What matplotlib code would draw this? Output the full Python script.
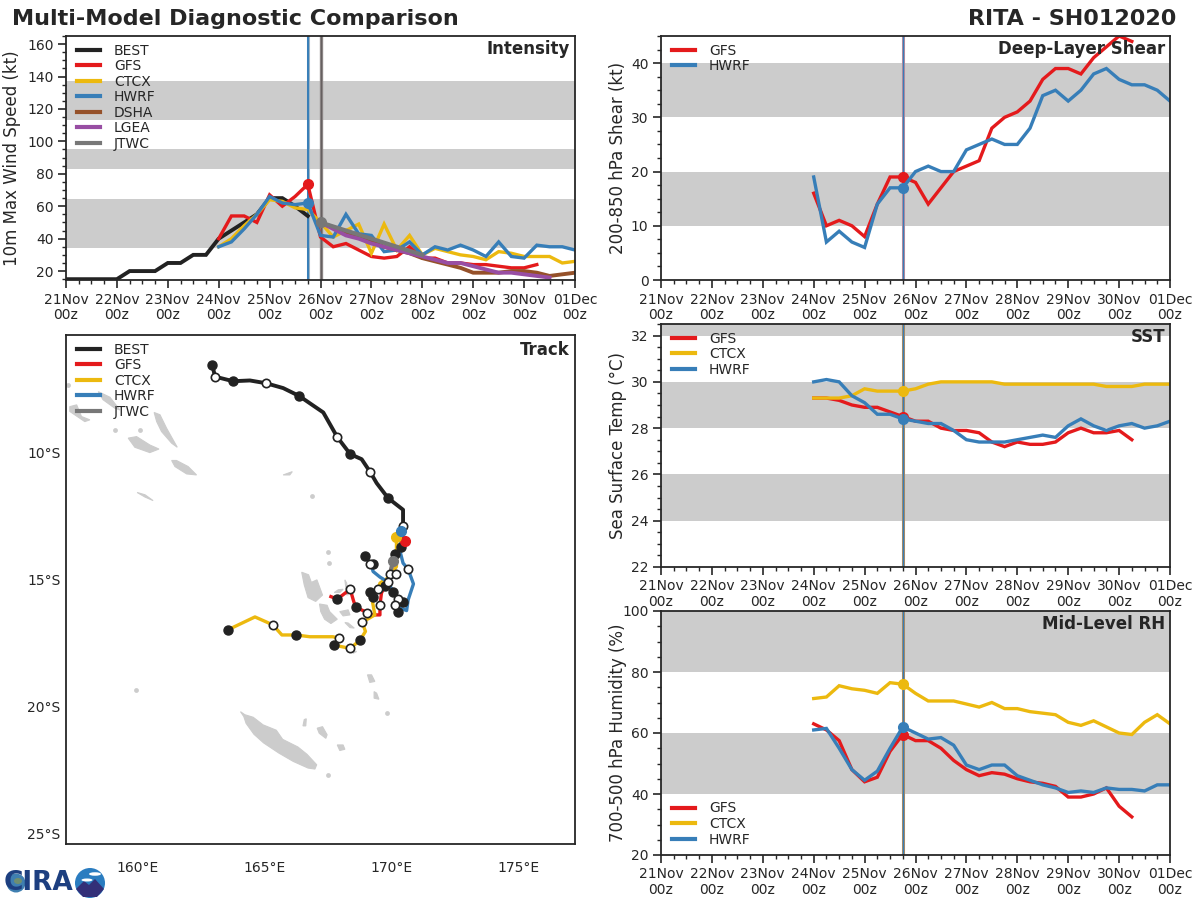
# Multi-model diagnostic comparison panel for RITA (SH012020)

import numpy as np
import matplotlib
matplotlib.use('Agg')
import matplotlib.pyplot as plt
from matplotlib.patches import Circle, Ellipse, Polygon
from matplotlib.ticker import MultipleLocator

plt.rcParams['font.family'] = ['DejaVu Sans']
plt.rcParams['text.color'] = '#262626'
plt.rcParams['axes.labelcolor'] = '#262626'
plt.rcParams['xtick.color'] = '#262626'
plt.rcParams['ytick.color'] = '#262626'

TICK_LABELS = ['21Nov\n00z', '22Nov\n00z', '23Nov\n00z', '24Nov\n00z', '25Nov\n00z', '26Nov\n00z',
               '27Nov\n00z', '28Nov\n00z', '29Nov\n00z', '30Nov\n00z', '01Dec\n00z']

COLORS = {'BEST': '#222222', 'GFS': '#e41a1c', 'CTCX': '#ecb90f', 'HWRF': '#377eb8',
          'DSHA': '#95512a', 'LGEA': '#984ea3', 'JTWC': '#777777'}

# ---- Intensity (kt), 6-hourly from the start hour
best_vmax = [15, 15, 15, 15, 15, 20, 20, 20, 25, 25, 30, 30, 40, 45, 50, 55, 65, 65, 60, 54]
gfs_vmax = [40, 54, 54, 50, 67, 60, 66, 73.5, 41, 35, 37, 33, 29, 28, 29, 35, 28, 28, 25, 25, 24, 24, 23, 22, 22, 24]
ctcx_vmax = [35, 40, 48, 55, 64, 63, 59, 58, 50, 41, 45, 49, 31, 49, 33, 42, 30, 34, 32, 30, 29, 27, 32, 31, 29, 29,
             29, 25, 26]
hwrf_vmax = [35, 38, 46, 55, 66, 62, 61, 62, 42, 41, 55, 43, 42, 32, 33, 38, 30, 35, 33, 36, 33, 29, 38, 29, 28, 36,
             35, 35, 33]
dsha_vmax = [50, 47, 44, 41, 38, 35, 33, 31, 28, 26, 24, 22, 19, 19, 19, 20, 20, 19, 17, 18, 19]
lgea_vmax = [50, 46, 42, 40, 37, 35, 33, 31, 29, 27, 25, 25, 23, 21, 19, 19, 18, 17, 16]
jtwc_hours = [120, 132, 144, 156, 168]
jtwc_vmax = [50, 45, 40, 35, 30]

# ---- Deep-layer shear (kt), from 72 h
gfs_shear = [16, 10, 11, 10, 8, 14, 19, 19, 18, 14, 17, 20, 21, 22, 28, 30, 31, 33, 37, 39, 39, 38, 41, 43, 45, 44]
hwrf_shear = [19, 7, 9, 7, 6, 14, 17, 17, 20, 21, 20, 20, 24, 25, 26, 25, 25, 28, 34, 35, 33, 35, 38, 39, 37, 36,
              36, 35, 33]

# ---- SST (C), from 72 h
gfs_sst = [29.3, 29.3, 29.2, 29.0, 28.9, 28.9, 28.7, 28.5, 28.3, 28.3, 28.0, 27.9, 27.9, 27.8, 27.4, 27.2, 27.4,
           27.3, 27.3, 27.4, 27.8, 28.0, 27.8, 27.8, 27.9, 27.5]
ctcx_sst = [29.3, 29.3, 29.3, 29.4, 29.7, 29.6, 29.6, 29.6, 29.7, 29.9, 30.0, 30.0, 30.0, 30.0, 30.0, 29.9, 29.9,
            29.9, 29.9, 29.9, 29.9, 29.9, 29.9, 29.8, 29.8, 29.8, 29.9, 29.9, 29.9]
hwrf_sst = [30.0, 30.1, 30.0, 29.4, 29.1, 28.6, 28.6, 28.4, 28.3, 28.2, 28.2, 27.9, 27.5, 27.4, 27.4, 27.4, 27.5,
            27.6, 27.7, 27.6, 28.1, 28.4, 28.1, 27.9, 28.1, 28.2, 28.0, 28.1, 28.3]

# ---- Mid-level RH (%), from 72 h
gfs_rh = [63, 61, 57.5, 48, 44, 45.5, 54, 59.5, 57.5, 57.5, 55, 51, 48, 46, 47, 46.5, 45, 44, 43.5, 42.5, 39, 39,
          40, 42, 36, 32.5]
ctcx_rh = [71.3, 71.8, 75.5, 74.5, 74, 73, 76.5, 76, 73, 70.5, 70.5, 70.5, 69.5, 68.5, 70, 68, 68, 67, 66.5, 66,
           63.5, 62.5, 64, 62, 60, 59.5, 63.5, 66, 63]
hwrf_rh = [61, 61.5, 55, 48, 44.5, 47.5, 55, 62, 60, 58, 58.5, 56, 49.5, 48, 49.5, 49.5, 46, 44.5, 43, 42, 40.5,
           41, 40.5, 42, 41.5, 41.5, 41, 43, 43]

# ---- Tracks (deg lon, deg lat)
best_lon = [162.93, 163.04, 163.75, 164.41, 165.05, 165.72, 166.35, 167.30, 167.85, 168.36, 168.81, 169.15, 169.40,
            169.85, 170.44, 170.44, 170.37, 170.12, 170.05]
best_lat = [-6.55, -7.00, -7.18, -7.15, -7.26, -7.45, -7.76, -8.41, -9.38, -10.05, -10.25, -10.76, -11.19, -11.78,
            -12.24, -12.90, -13.69, -13.98, -14.25]
gfs_lon = [170.50, 170.35, 170.20, 169.85, 169.59, 169.53, 169.53, 169.13, 169.03, 168.57, 168.48, 168.36, 167.85,
           167.60]
gfs_lat = [-13.46, -13.70, -13.82, -15.00, -15.52, -16.00, -16.38, -16.38, -16.29, -16.07, -15.79, -15.37, -15.76,
           -15.66]
ctcx_lon = [170.18, 170.18, 169.92, 169.53, 169.46, 169.20, 169.33, 168.83, 168.96, 168.75, 168.36, 167.73, 167.93,
            167.68, 166.77, 166.22, 165.67, 165.31, 164.61, 163.54]
ctcx_lat = [-13.30, -14.48, -14.87, -15.13, -15.37, -15.66, -16.38, -16.67, -17.03, -17.37, -17.70, -17.57, -17.30,
            -17.24, -17.24, -17.17, -17.17, -16.77, -16.46, -16.97]
hwrf_lon = [170.37, 170.34, 170.44, 170.64, 170.85, 170.64, 170.58, 170.18, 170.25, 170.05, 169.85, 169.53, 169.26,
            169.20, 168.96]
hwrf_lat = [-13.06, -13.95, -14.34, -14.58, -15.16, -15.79, -16.21, -16.05, -15.76, -15.48, -15.09, -14.89, -14.67,
            -14.44, -14.07]
jtwc_lon = [170.05, 169.92, 169.85]
jtwc_lat = [-14.25, -14.78, -15.09]

# 00z / 12z position dots
filled_lon = [162.93, 163.75, 166.35, 168.36, 169.85, 168.96, 169.26, 170.12, 170.37, 169.72, 170.05, 169.15, 169.26,
              170.44, 170.25, 168.57, 167.85, 168.75, 167.73, 166.22, 163.54]
filled_lat = [-6.55, -7.18, -7.76, -10.05, -11.78, -14.07, -14.38, -13.98, -13.69, -15.24, -15.48, -15.48, -15.68,
              -15.87, -16.27, -16.07, -15.76, -17.37, -17.57, -17.17, -16.97]
open_lon = [163.04, 165.05, 167.85, 169.15, 170.44, 169.15, 169.92, 170.15, 169.85, 169.46, 170.25, 170.12, 169.54,
            169.03, 168.36, 168.83, 167.93, 168.36, 170.64, 165.31]
open_lat = [-7.00, -7.26, -9.38, -10.76, -12.87, -14.38, -14.78, -14.78, -15.09, -15.37, -15.76, -16.00, -16.00,
            -16.29, -15.37, -16.67, -17.30, -17.70, -14.58, -16.77]

# ---- Land outlines (lon, lat)
new_caledonia = [(164.04, -20.19), (164.21, -20.31), (164.54, -20.41), (164.93, -20.71), (165.45, -20.92),
                 (165.70, -21.28), (166.30, -21.58), (166.66, -21.87), (167.04, -22.28), (166.97, -22.45),
                 (166.70, -22.41), (166.12, -22.15), (165.55, -21.82), (164.95, -21.42), (164.57, -21.08),
                 (164.26, -20.65), (164.17, -20.38)]
loyalty = [[(167.06, -20.84), (167.27, -20.78), (167.45, -21.10), (167.40, -21.24), (167.14, -21.04)],
           [(167.85, -21.50), (168.08, -21.50), (168.15, -21.67), (167.95, -21.72)],
           [(166.55, -20.50), (166.63, -20.47), (166.61, -20.75), (166.50, -20.75)]]
vanuatu = [[(166.45, -14.70), (166.72, -14.80), (166.83, -15.10), (167.05, -15.00), (167.27, -15.60), (167.00, -15.85),
            (166.70, -15.70), (166.55, -15.20)],
           [(167.15, -15.95), (167.45, -16.00), (167.55, -16.25), (167.85, -16.55), (167.60, -16.72), (167.35, -16.55),
            (167.20, -16.25)],
           [(167.73, -15.50), (167.89, -15.39), (168.08, -15.37), (167.95, -15.50)],
           [(168.15, -15.00), (168.22, -15.13), (168.28, -15.59), (168.22, -15.59)],
           [(167.95, -16.25), (168.28, -16.18), (168.35, -16.38), (168.08, -16.42)],
           [(168.15, -16.68), (168.28, -16.70), (168.52, -16.90), (168.35, -16.88)],
           [(168.35, -17.76), (168.61, -17.82), (168.48, -17.89)],
           [(169.04, -18.74), (169.20, -18.74), (169.33, -19.00), (169.13, -19.04)],
           [(169.30, -19.40), (169.40, -19.46), (169.49, -19.70), (169.30, -19.66)]]
solomons = [[(160.64, -8.41), (160.87, -8.50), (161.13, -9.03), (161.55, -9.78), (161.33, -9.62), (160.93, -9.16),
             (160.74, -8.77)],
            [(159.62, -9.42), (159.95, -9.36), (160.47, -9.69), (160.83, -9.85), (160.47, -9.99), (159.88, -9.78)],
            [(161.33, -10.30), (161.52, -10.30), (161.98, -10.54), (162.31, -10.87), (161.92, -10.83),
             (161.46, -10.54)],
            [(159.97, -11.56), (160.28, -11.65), (160.60, -11.88), (160.28, -11.74)],
            [(157.32, -8.18), (157.59, -8.11), (157.78, -8.57), (158.11, -8.70), (157.91, -8.77), (157.32, -8.37)],
            [(158.44, -7.59), (158.90, -7.81), (159.29, -8.31), (159.09, -8.24), (158.63, -7.91)],
            [(165.72, -10.87), (166.08, -10.74), (165.98, -10.87)]]
islet_lon = [167.49, 167.53, 169.79, 167.49, 159.09, 160.08, 157.24, 166.84, 159.92]
islet_lat = [-13.89, -14.32, -20.25, -22.68, -9.09, -9.09, -7.32, -11.68, -19.33]


def hours(values, start):
    return start + 6 * np.arange(len(values))


def make_axes(left, top, right, bottom):
    return fig.add_axes([left / 1200, 1 - bottom / 900, (right - left) / 1200, (bottom - top) / 900])


def panel_title(ax, title, offset):
    height = ax.get_position().height * 900
    ax.text(0.99, 1 - offset / height, title, transform=ax.transAxes, ha='right', va='top', fontsize=12,
            fontweight='bold')


def style_time_axis(ax, ylim, bands, ystep, yminor, ylabel, title, label_x):
    for lo, hi in bands:
        ax.axhspan(lo, hi, color='#cccccc', lw=0, zorder=0)
    ax.set_xlim(0, 240)
    ax.set_ylim(*ylim)
    ax.set_xticks(np.arange(0, 241, 24))
    ax.set_xticklabels(TICK_LABELS, fontsize=10, linespacing=1.1)
    ax.xaxis.set_minor_locator(MultipleLocator(6))
    ax.yaxis.set_major_locator(MultipleLocator(ystep))
    ax.yaxis.set_minor_locator(MultipleLocator(yminor))
    ax.tick_params(axis='y', labelsize=10)
    ax.tick_params(which='major', length=5.5, width=1.2)
    ax.tick_params(which='minor', length=3, width=1)
    ax.set_ylabel(ylabel, fontsize=12)
    ax.yaxis.set_label_coords(label_x, 0.5)
    panel_title(ax, title, 4)
    for sp in ax.spines.values():
        sp.set_linewidth(1.3)
        sp.set_color('#262626')


def add_legend(ax, lower=False):
    pos = ax.get_position()
    x = 11 / (pos.width * 1200)
    if lower:
        anchor, loc = (x, 8.5 / (pos.height * 900)), 'lower left'
    else:
        anchor, loc = (x, 1 - 7.7 / (pos.height * 900)), 'upper left'
    leg = ax.legend(loc=loc, bbox_to_anchor=anchor, frameon=False, fontsize=10, labelspacing=0.11,
                    handlelength=1.65, handletextpad=1.0, borderaxespad=0, borderpad=0)
    for line in leg.get_lines():
        line.set_linewidth(3)
    return leg


def init_line(ax, hour, outer, inner_lw=0.8):
    ax.axvline(hour, color=outer, lw=2.2, zorder=1)
    ax.axvline(hour, color=COLORS['HWRF'], lw=inner_lw, zorder=1)


def model_line(ax, x, y, name, marker_hour=None, lw=2.4):
    ax.plot(x, y, color=COLORS[name], lw=lw, label=name, solid_joinstyle='miter')
    if marker_hour is not None:
        ax.plot(marker_hour, y[list(x).index(marker_hour)], 'o', color=COLORS[name], ms=7)


fig = plt.figure(figsize=(12, 9), dpi=100)

# Intensity
ax = make_axes(66, 36, 575, 280)
style_time_axis(ax, (14.5, 165), [(34, 64.5), (83, 95.5), (113, 137)], 20, 5, '10m Max Wind Speed (kt)', 'Intensity',
                (21 - 66) / 509)
init_line(ax, 114, '#9fb4c4', 1.4)
ax.axvline(120, color='#8c8686', lw=2.4, zorder=1)
ax.axvline(120, color='#666060', lw=0.8, zorder=1)
model_line(ax, hours(best_vmax, 0), best_vmax, 'BEST', lw=2.8)
model_line(ax, hours(gfs_vmax, 72), gfs_vmax, 'GFS', 114)
model_line(ax, hours(ctcx_vmax, 72), ctcx_vmax, 'CTCX')
model_line(ax, hours(hwrf_vmax, 72), hwrf_vmax, 'HWRF', 114)
model_line(ax, hours(dsha_vmax, 120), dsha_vmax, 'DSHA', lw=2.8)
model_line(ax, hours(lgea_vmax, 120), lgea_vmax, 'LGEA', lw=2.8)
ax.plot(jtwc_hours, jtwc_vmax, color=COLORS['JTWC'], lw=3, label='JTWC')
ax.plot(jtwc_hours[0], jtwc_vmax[0], 'o', color=COLORS['JTWC'], ms=7)
add_legend(ax)

# Shear
ax = make_axes(661, 36, 1170, 280)
style_time_axis(ax, (0, 45), [(10, 20), (30, 40)], 10, 2.5, '200-850 hPa Shear (kt)', 'Deep-Layer Shear',
                (627 - 661) / 509)
init_line(ax, 114, '#b08aa0')
model_line(ax, hours(gfs_shear, 72), gfs_shear, 'GFS', 114)
model_line(ax, hours(hwrf_shear, 72), hwrf_shear, 'HWRF', 114)
add_legend(ax)

# SST
ax = make_axes(661, 324, 1170, 567)
style_time_axis(ax, (22, 32.5), [(24, 26), (28, 30), (32, 32.5)], 2, 0.5, 'Sea Surface Temp (°C)', 'SST',
                (627 - 661) / 509)
init_line(ax, 114, '#a58a68')
model_line(ax, hours(gfs_sst, 72), gfs_sst, 'GFS', 114)
model_line(ax, hours(ctcx_sst, 72), ctcx_sst, 'CTCX', 114)
model_line(ax, hours(hwrf_sst, 72), hwrf_sst, 'HWRF', 114)
add_legend(ax)

# RH
ax = make_axes(661, 611, 1170, 855)
style_time_axis(ax, (20, 100), [(40, 60), (80, 100)], 20, 5, '700-500 hPa Humidity (%)', 'Mid-Level RH',
                (627 - 661) / 509)
init_line(ax, 114, '#a58a68')
model_line(ax, hours(gfs_rh, 72), gfs_rh, 'GFS', 114)
model_line(ax, hours(ctcx_rh, 72), ctcx_rh, 'CTCX', 114)
model_line(ax, hours(hwrf_rh, 72), hwrf_rh, 'HWRF', 114)
add_legend(ax, lower=True)

# Track
ax = make_axes(66, 335, 575, 844)
for poly in [new_caledonia] + loyalty + vanuatu + solomons:
    ax.add_patch(Polygon(poly, closed=True, fc='#cccccc', ec='#cccccc', lw=0.8, zorder=1))
ax.scatter(islet_lon, islet_lat, s=12, marker='o', color='#cccccc', lw=0, zorder=1)
ax.plot(best_lon, best_lat, color=COLORS['BEST'], lw=2.8, label='BEST', zorder=3)
ax.plot(gfs_lon, gfs_lat, color=COLORS['GFS'], lw=2.4, label='GFS', zorder=3)
ax.plot(ctcx_lon, ctcx_lat, color=COLORS['CTCX'], lw=2.4, label='CTCX', zorder=3)
ax.plot(hwrf_lon, hwrf_lat, color=COLORS['HWRF'], lw=2.4, label='HWRF', zorder=3)
ax.plot(jtwc_lon, jtwc_lat, color=COLORS['JTWC'], lw=3, label='JTWC', zorder=3)
ax.plot(filled_lon, filled_lat, 'o', color='#222222', ms=6.5, zorder=4)
ax.plot(open_lon, open_lat, 'o', mfc='white', mec='#222222', mew=1.2, ms=6, zorder=4)
for name, lons, lats in [('GFS', gfs_lon, gfs_lat), ('CTCX', ctcx_lon, ctcx_lat), ('HWRF', hwrf_lon, hwrf_lat),
                         ('JTWC', jtwc_lon, jtwc_lat)]:
    ax.plot(lons[0], lats[0], 'o', color=COLORS[name], ms=7, zorder=5)
ax.set_xlim(157.17, 177.21)
ax.set_ylim(-25.4, -5.36)
ax.set_xticks([160, 165, 170, 175])
ax.set_xticklabels(['160°E', '165°E', '170°E', '175°E'], fontsize=10)
ax.set_yticks([-10, -15, -20, -25])
ax.set_yticklabels(['10°S', '15°S', '20°S', '25°S'], fontsize=10)
ax.tick_params(axis='x', length=0, pad=12)
ax.tick_params(axis='y', length=0, pad=4)
panel_title(ax, 'Track', 6)
for sp in ax.spines.values():
    sp.set_linewidth(1.3)
    sp.set_color('#262626')
add_legend(ax)

# Titles
fig.text(12 / 1200, 1 - 19 / 900, 'Multi-Model Diagnostic Comparison', fontsize=16, fontweight='bold', va='center')
fig.text(1176 / 1200, 1 - 19 / 900, 'RITA - SH012020', fontsize=16, fontweight='bold', va='center', ha='right')

# CIRA logo, bottom left
logo = fig.add_axes([0, 0, 110 / 1200, 40 / 900])
logo.set_xlim(0, 110)
logo.set_ylim(40, 0)
logo.axis('off')
logo.add_patch(Circle((16, 23), 9.5, fc='#3f7fb0', lw=0))
logo.add_patch(Ellipse((18, 21), 8, 6, fc='#6f8f70', lw=0))
logo.text(4, 23, 'CIRA', fontsize=19, fontweight='bold', color='#1d3f80', va='center', ha='left')
logo.add_patch(Circle((90, 23), 15, fc='#2a7cc0', lw=0))
logo.add_patch(Polygon([(76, 29), (84, 21), (89, 25), (95, 19), (104, 29), (97, 37), (83, 37)], closed=True,
                       fc='#332f78', lw=0))
logo.add_patch(Ellipse((87, 20), 11, 3, fc='white', lw=0))
logo.add_patch(Ellipse((95, 14), 12, 3.5, fc='white', lw=0))

fig.savefig('out.png', dpi=100)
